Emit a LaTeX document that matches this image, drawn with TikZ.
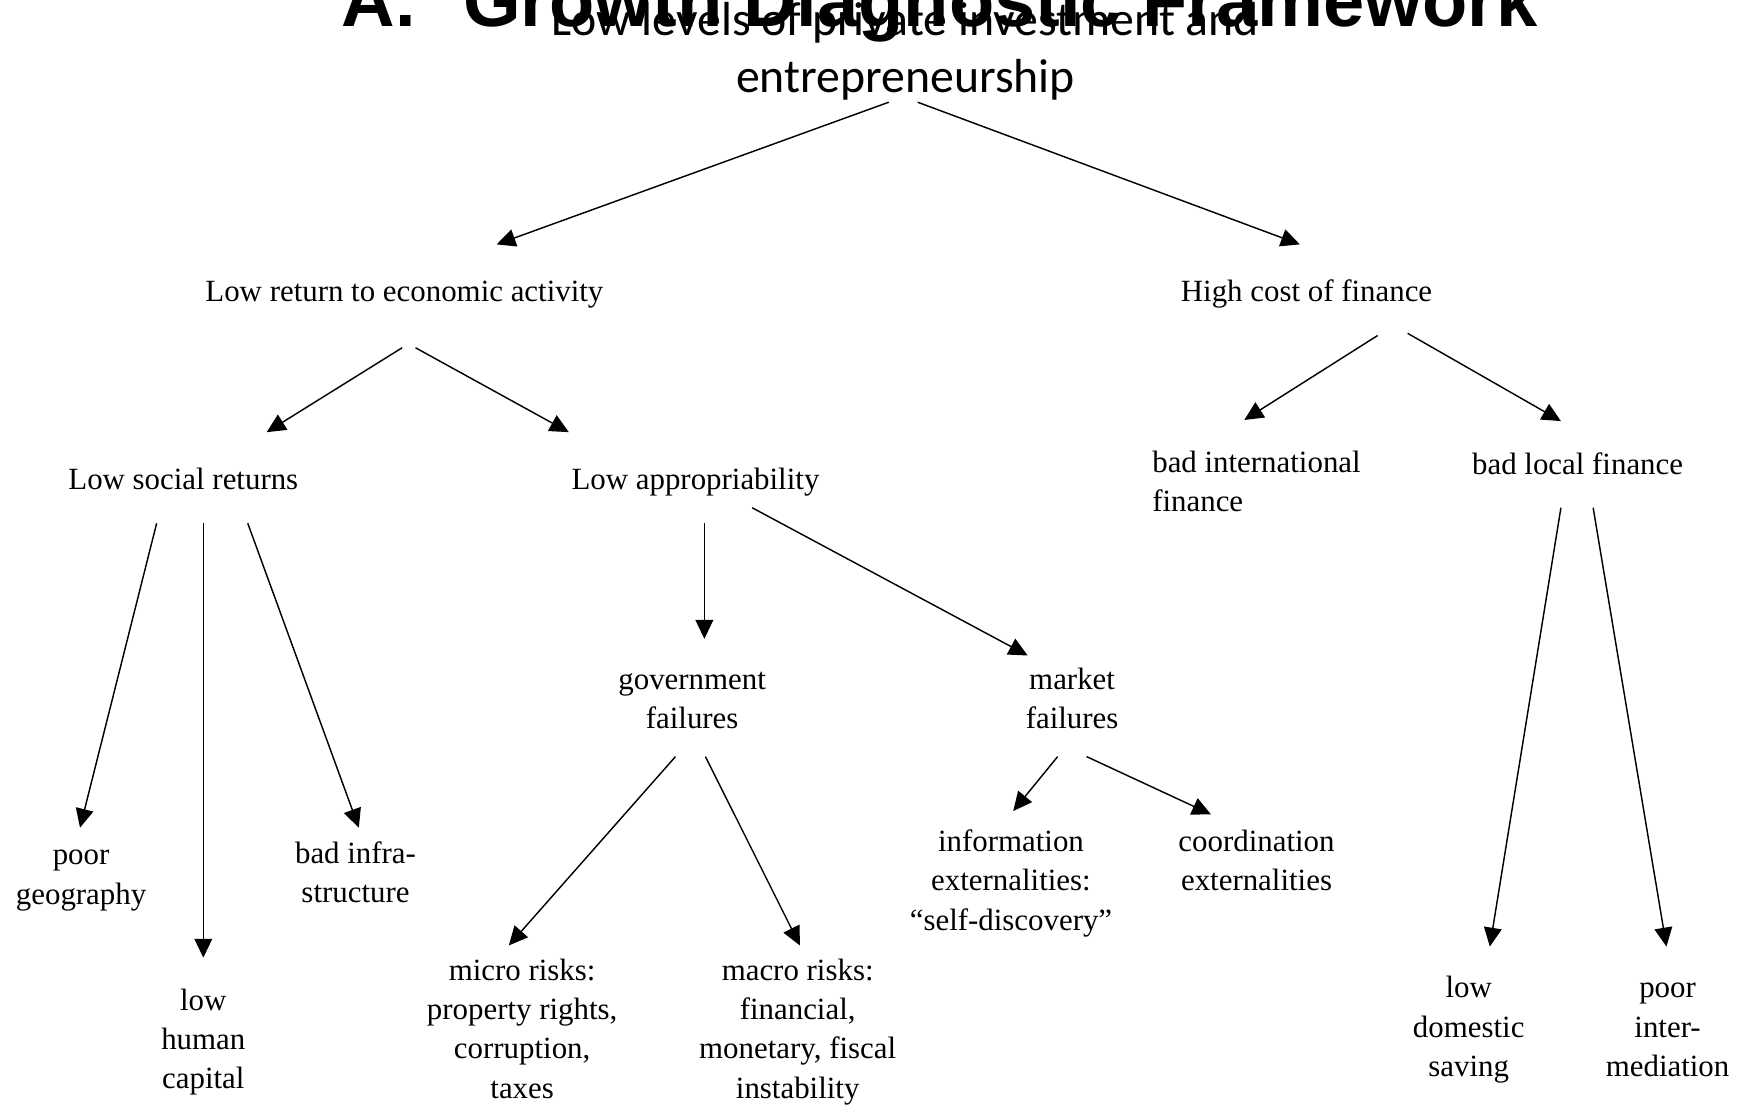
\documentclass[tikz,border=0pt]{standalone}
\usepackage{fontspec}
\setmainfont{Liberation Serif}
\setsansfont{Liberation Sans}
\newfontfamily\carlitofont{Carlito}
\usetikzlibrary{arrows.meta}
\newcommand{\treefont}{\fontsize{27.8pt}{35.5pt}\selectfont}
\newcommand{\topfont}{\carlitofont\fontsize{43pt}{52pt}\selectfont}
\newcommand{\titlefont}{\sffamily\bfseries\fontsize{66.7pt}{80pt}\selectfont}
\begin{document}
\begin{tikzpicture}[x=1pt,y=-1pt,
  lbl/.style={inner sep=0pt, anchor=north, align=center, font=\treefont},
  arr/.style={line width=1.3pt, -{Triangle[length=17pt,width=16pt]}}]
\useasboundingbox (0,0) rectangle (1568,997);
% title and top node
\node[inner sep=0pt, anchor=base, font=\titlefont] (title) at (846,24)
  {A.\hspace{0.64em}Growth Diagnostic Framework};
\node[inner sep=0pt, anchor=north, align=center, font=\topfont] (top) at (815,-4.9)
  {\strut Low levels of private investment and\\entrepreneurship};
% tree nodes
\node[lbl] (n1) at (364,246.15) {\strut Low return to economic activity};
\node[lbl] (n2) at (1176,246.15) {\strut High cost of finance};
\node[lbl] (n3) at (165,415.15) {\strut Low social returns};
\node[lbl] (n4) at (626,415.15) {\strut Low appropriability};
\node[lbl, anchor=north west, align=left] (n5) at (1037,400.15) {\strut bad international\\finance};
\node[lbl] (n6) at (1420,402.15) {\strut bad local finance};
\node[lbl] (n7) at (623,595.15) {\strut government\\failures};
\node[lbl] (n8) at (965,595.15) {\strut market\\failures};
\node[lbl] (n9) at (73,753.15) {\strut poor\\geography};
\node[lbl] (n10) at (183,884.15) {\strut low\\human\\capital};
\node[lbl] (n11) at (320,752.15) {\strut bad infra-\\structure};
\node[lbl] (n12) at (470,857.15) {\strut micro risks:\\property rights,\\corruption,\\taxes};
\node[lbl] (n13) at (718,857.15) {\strut macro risks:\\financial,\\monetary, fiscal\\instability};
\node[lbl] (n14) at (910,741.15) {\strut information\\externalities:\\``self-discovery''};
\node[lbl] (n15) at (1131,741.15) {\strut coordination\\externalities};
\node[lbl] (n16) at (1322,873.15) {\strut low\\domestic\\saving};
\node[lbl] (n17) at (1501,873.15) {\strut poor\\inter-\\mediation};
% connectors
\draw[arr] ([shift={(-15,96.9)}]top.north) -- ([shift={(83,-26.15)}]n1.north);
\draw[arr] ([shift={(11,96.9)}]top.north) -- ([shift={(-6,-26.15)}]n2.north);
\draw[arr] ([shift={(-2,66.85)}]n1.north) -- ([shift={(75,-26.15)}]n3.north);
\draw[arr] ([shift={(10,66.85)}]n1.north) -- ([shift={(-114,-26.15)}]n4.north);
\draw[arr] ([shift={(64,55.85)}]n2.north) -- ([shift={(83,-22.15)}]n5.north west);
\draw[arr] ([shift={(91,53.85)}]n2.north) -- ([shift={(-15,-23.15)}]n6.north);
\draw[arr] ([shift={(-24,55.85)}]n3.north) -- ([shift={(-1,-8.15)}]n9.north);
\draw[arr] ([shift={(18,55.85)}]n3.north) -- ([shift={(0,-22.15)}]n10.north);
\draw[arr] ([shift={(58,55.85)}]n3.north) -- ([shift={(3,-7.15)}]n11.north);
\draw[arr] ([shift={(8,55.85)}]n4.north) -- ([shift={(11,-20.15)}]n7.north);
\draw[arr] ([shift={(51,41.85)}]n4.north) -- ([shift={(-40,-5.15)}]n8.north);
\draw[arr] ([shift={(-15,54.85)}]n6.north) -- ([shift={(19,-21.15)}]n16.north);
\draw[arr] ([shift={(14,54.85)}]n6.north) -- ([shift={(-1,-21.15)}]n17.north);
\draw[arr] ([shift={(-15,85.85)}]n7.north) -- ([shift={(-12,-6.15)}]n12.north);
\draw[arr] ([shift={(12,85.85)}]n7.north) -- ([shift={(2,-6.15)}]n13.north);
\draw[arr] ([shift={(-13,85.85)}]n8.north) -- ([shift={(2,-11.15)}]n14.north);
\draw[arr] ([shift={(13,85.85)}]n8.north) -- ([shift={(-41,-8.15)}]n15.north);
\end{tikzpicture}
\end{document}
